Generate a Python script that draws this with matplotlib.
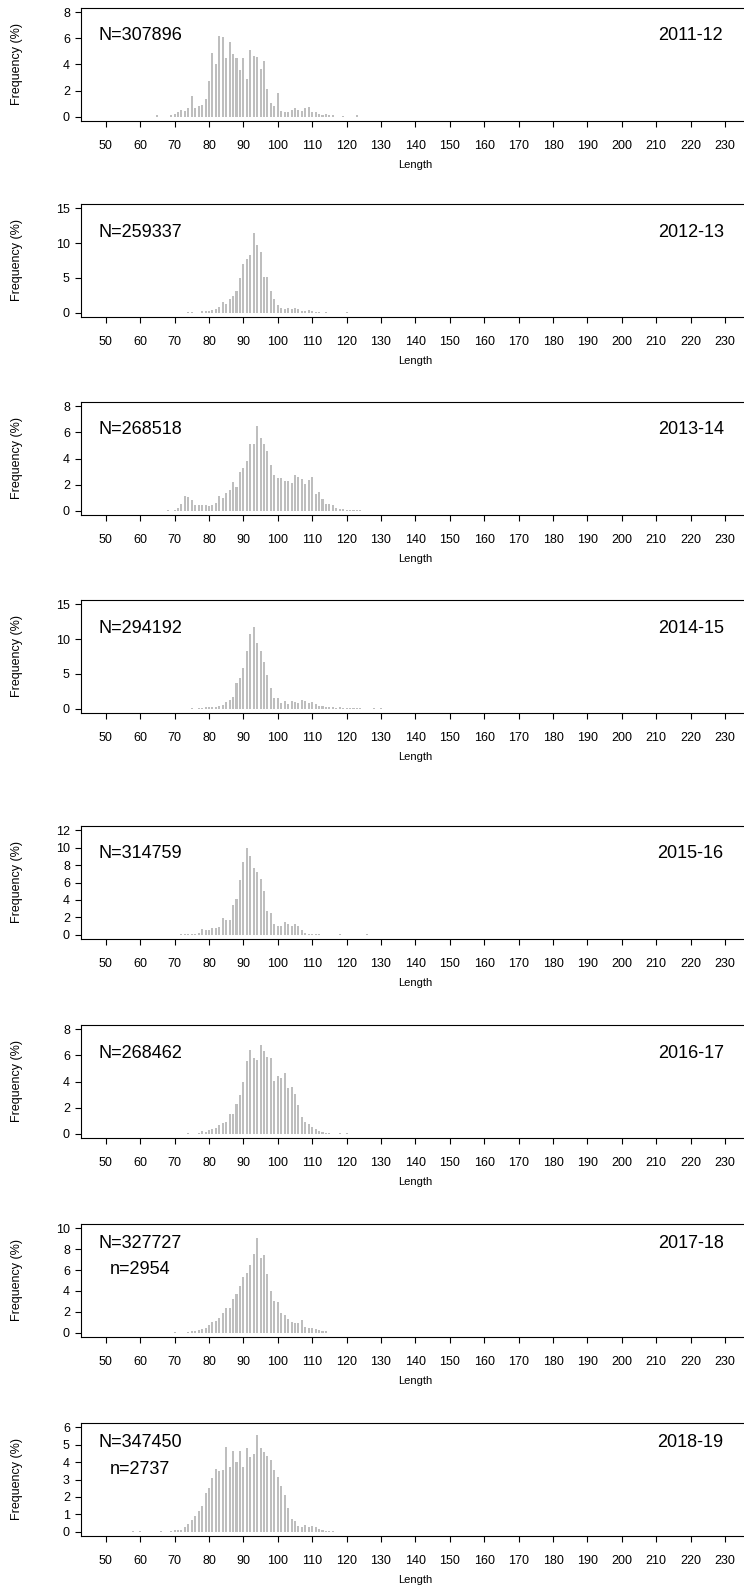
import matplotlib
matplotlib.use('Agg')
import matplotlib.pyplot as plt
import numpy as np

plt.rcParams['font.family'] = ['Liberation Sans', 'DejaVu Sans']

# season labels and sample sizes
seasons = ['2011-12', '2012-13', '2013-14', '2014-15',
           '2015-16', '2016-17', '2017-18', '2018-19']
n_total = [307896, 259337, 268518, 294192, 314759, 268462, 327727, 347450]
n_sampled = [None, None, None, None, None, None, 2954, 2737]

# first length class of each series (one value per cm after that, 0 = no bar)
first_len = [65, 74, 68, 75, 72, 74, 70, 58]

freq_2011 = [0.12, 0, 0, 0,
             0.15, 0.25, 0.4, 0.5, 0.43, 0.7, 1.56, 0.7, 0.8, 0.88,
             1.4, 2.74, 4.86, 4.05, 6.19, 6.09, 4.48, 5.74, 4.8, 4.48,
             3.55, 4.48, 2.92, 5.1, 4.65, 4.58, 3.67, 4.23, 2.14, 1.08,
             0.86, 1.84, 0.43, 0.35, 0.35, 0.5, 0.68, 0.53, 0.43, 0.65,
             0.75, 0.35, 0.33, 0.18, 0.12, 0.22, 0.12, 0.15,
             0, 0, 0.05, 0, 0, 0, 0.15]
freq_2012 = [0.05, 0.05, 0, 0, 0.33, 0.33, 0.33, 0.47, 0.52, 0.8,
             1.5, 1.33, 1.94, 2.46, 3.13, 4.98, 6.97, 7.77, 8.29, 11.47,
             9.76, 8.77, 5.17, 5.17, 3.13, 1.94, 1.18, 0.62, 0.52, 0.62,
             0.52, 0.66, 0.52, 0.19, 0.19, 0.38, 0.19, 0.09, 0.05, 0,
             0.05, 0, 0, 0, 0, 0, 0.05]
freq_2013 = [0.03, 0, 0.05, 0.23, 0.53, 1.14, 1.04, 0.86, 0.46, 0.46,
             0.46, 0.46, 0.35, 0.46, 0.63, 1.14, 0.99, 1.39, 1.59, 2.2,
             1.82, 2.98, 3.26, 3.79, 5.13, 5.13, 6.47, 5.59, 5.13, 4.55,
             3.54, 2.73, 2.48, 2.48, 2.3, 2.3, 2.1, 2.73, 2.58, 2.43,
             2.02, 2.35, 2.55, 1.29, 1.47, 0.94, 0.53, 0.53, 0.46, 0.2,
             0.13, 0.15, 0.08, 0.08, 0.08, 0.05, 0.03]
freq_2014 = [0.05, 0, 0.1, 0.15, 0.2, 0.3, 0.33, 0.33, 0.38, 0.6,
             1.04, 1.23, 1.7, 3.65, 4.36, 5.78, 8.34, 10.7, 11.66, 9.43,
             8.34, 6.68, 4.83, 2.98, 1.52, 1.52, 0.81, 1.14, 0.71, 1.18,
             1.04, 0.9, 1.23, 1.18, 0.9, 1.0, 0.62, 0.47, 0.38, 0.19,
             0.33, 0.19, 0.14, 0.19, 0.14, 0.1, 0.1, 0.1, 0.1, 0.1,
             0, 0, 0, 0.05, 0, 0.05]
freq_2015 = [0.05, 0.1, 0.1, 0.1, 0.15, 0.2, 0.7, 0.5, 0.5, 0.75,
             0.75, 0.87, 1.93, 1.67, 1.67, 3.37, 4.09, 6.33, 8.37, 9.96,
             9.05, 7.69, 7.16, 6.36, 5.04, 2.77, 2.54, 1.25, 1.06, 0.98,
             1.48, 1.25, 1.06, 1.21, 1.02, 0.57, 0.23, 0.15, 0.15, 0.1,
             0.05, 0, 0, 0, 0, 0, 0.05, 0, 0, 0, 0, 0, 0, 0, 0.05]
freq_2016 = [0.05, 0, 0, 0.1, 0.2, 0.15, 0.3, 0.35, 0.45, 0.66,
             0.8, 0.91, 1.52, 1.52, 2.25, 2.96, 3.97, 5.54, 6.42, 5.79,
             5.66, 6.8, 6.35, 5.84, 5.79, 4.05, 4.4, 4.3, 4.68, 3.49,
             3.59, 3.08, 2.2, 1.31, 0.91, 0.78, 0.53, 0.35, 0.25, 0.15,
             0.1, 0.1, 0, 0, 0.05, 0, 0.05]
freq_2017 = [0.05, 0, 0, 0, 0.1, 0.15, 0.2, 0.3, 0.4, 0.5,
             0.7, 1.08, 1.17, 1.39, 1.93, 2.4, 2.4, 3.2, 3.67, 4.46,
             5.35, 5.76, 6.52, 7.53, 9.05, 7.15, 7.47, 5.6, 3.96, 3.04,
             2.97, 1.9, 1.68, 1.3, 1.04, 0.95, 0.92, 1.2, 0.6, 0.5,
             0.45, 0.35, 0.3, 0.2, 0.15]
freq_2018 = [0.05, 0, 0.05, 0, 0, 0, 0, 0, 0.05, 0, 0, 0.05,
             0.1, 0.1, 0.1, 0.3, 0.47, 0.7, 0.9, 1.17, 1.47, 2.23,
             2.51, 3.08, 3.59, 3.5, 3.55, 4.88, 3.74, 4.65, 3.99, 4.65,
             3.74, 4.79, 4.31, 4.45, 5.58, 4.79, 4.56, 4.35, 4.12, 3.55,
             3.14, 2.6, 2.13, 1.37, 0.76, 0.6, 0.35, 0.3, 0.4, 0.25,
             0.35, 0.3, 0.15, 0.1, 0.05, 0.05, 0.05]

all_freq = [freq_2011, freq_2012, freq_2013, freq_2014,
            freq_2015, freq_2016, freq_2017, freq_2018]

y_max = [8, 15, 8, 15, 12, 8, 10, 6]
y_step = [2, 5, 2, 5, 2, 2, 2, 1]
x_ticks = np.arange(50, 231, 10)

# layout in pixels
W, H = 744, 1587
panel_top = [8, 204, 402, 600, 826, 1025, 1224, 1423]
panel_h = 113
left_px = 81
right_px = 749.8

fig = plt.figure(figsize=(W / 100, H / 100), dpi=100)

for i in range(8):
    top = panel_top[i]
    ax = fig.add_axes([left_px / W, 1 - (top + panel_h) / H,
                       (right_px - left_px) / W, panel_h / H])
    freq = all_freq[i]
    lengths = first_len[i] + np.arange(len(freq))
    ax.bar(lengths, freq, width=0.6, color='#bebebe', linewidth=0)

    ax.set_xlim(42.8, 237.2)
    ax.set_ylim(-0.04 * y_max[i], 1.04 * y_max[i])
    ax.set_xticks(x_ticks)
    ax.set_yticks(np.arange(0, y_max[i] + 0.1, y_step[i]))
    ax.tick_params(axis='x', direction='out', length=4.5, width=0.8,
                   labelsize=9, pad=9.5)
    ax.tick_params(axis='y', direction='out', length=4.5, width=0.8,
                   labelsize=9, pad=3.5)
    ax.spines['right'].set_visible(False)
    for s in ['left', 'top', 'bottom']:
        ax.spines[s].set_linewidth(0.8)

    # annotations
    xt = ax.get_xaxis_transform()
    if n_sampled[i] is None:
        y_n = 1 - 28 / panel_h
        ax.text(60, y_n, 'N=%d' % n_total[i], transform=xt,
                ha='center', va='center', fontsize=13)
    else:
        y_n = 1 - 19.5 / panel_h
        ax.text(60, y_n, 'N=%d' % n_total[i], transform=xt,
                ha='center', va='center', fontsize=13)
        ax.text(60, 1 - 46 / panel_h, 'n=%d' % n_sampled[i], transform=xt,
                ha='center', va='center', fontsize=13)
    ax.text(220, y_n, seasons[i], transform=xt,
            ha='center', va='center', fontsize=13)

    fig.text(17.5 / W, 1 - (top + 56) / H, 'Frequency (%)', rotation=90,
             ha='center', va='center', fontsize=9)
    fig.text(((left_px + right_px) / 2) / W, 1 - (top + 157) / H, 'Length',
             ha='center', va='center', fontsize=8)

fig.savefig('out.png', dpi=100)
